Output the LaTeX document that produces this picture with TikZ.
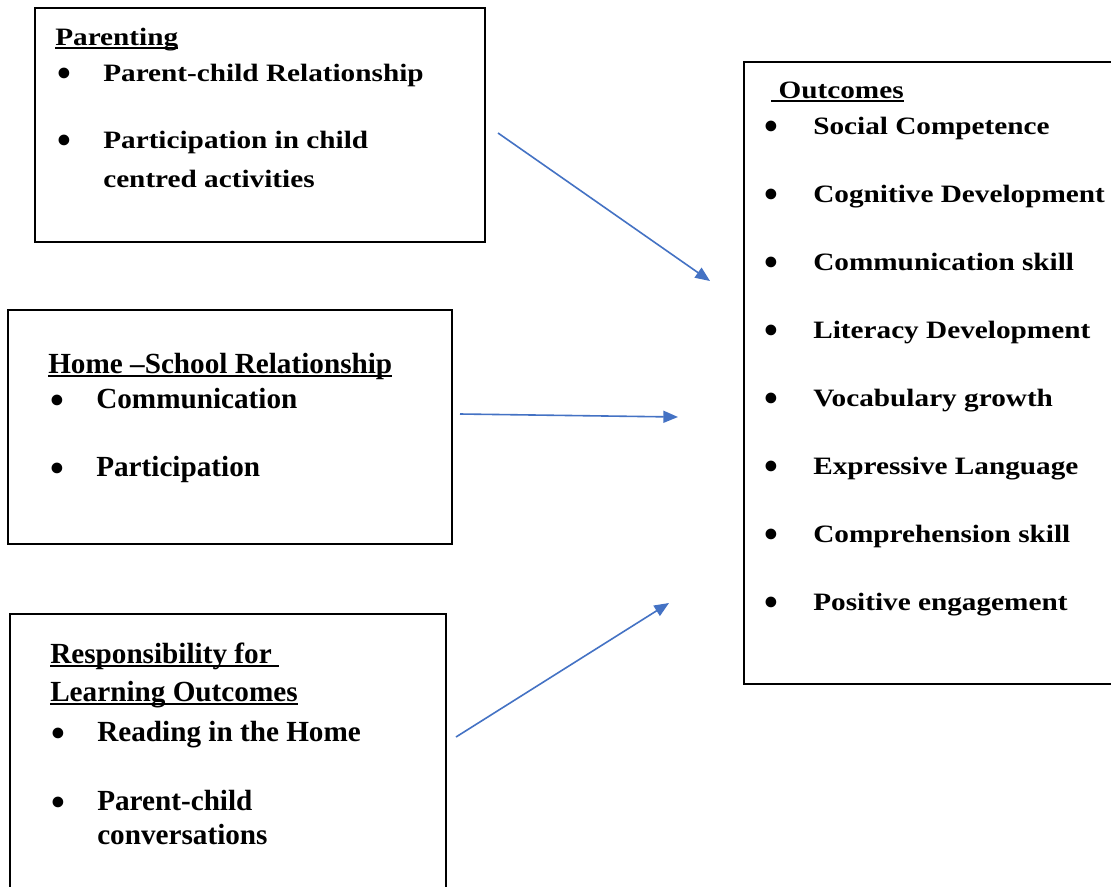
\documentclass[tikz,border=0pt]{standalone}
\usepackage{fontspec}
\setmainfont{Liberation Serif}
\newfontfamily\wideserif{Liberation Serif}[FakeStretch=1.17]
\usepackage{tikz}
\usetikzlibrary{arrows.meta}
\usetikzlibrary{positioning}
\definecolor{arrowblue}{RGB}{68,114,196}
\newcommand\hdline[1]{\setbox0\hbox{#1}\rlap{\rule[-3.2pt]{\wd0}{1.4pt}}\box0}
\newcommand\bigbul{\raisebox{-4pt}{\scalebox{1.35}{\textbullet}}}
\tikzstyle{box} = [rectangle, draw, line width=1.5pt, inner sep=0pt]
\tikzstyle{txt} = [anchor=base west, inner sep=0pt, font=\bfseries\fontsize{21.9}{26}\selectfont]
\tikzstyle{wtxt} = [anchor=base west, inner sep=0pt, font=\wideserif\bfseries\fontsize{18.75}{22}\selectfont]
\tikzstyle{line} = [draw, arrowblue, line width=1.2pt, -{Triangle[length=11pt, width=9pt]}]

\begin{document}
\begin{tikzpicture}[x=0.75pt, y=-0.75pt]
	\clip (0,0) rectangle (1111,886);
	\fill[white] (0,0) rectangle (1111,886);
	
	% Boxes
	\node [box, minimum width=337.5pt, minimum height=175.5pt] (parent) at (260,125) {};
	\node [box, minimum width=333pt, minimum height=175.5pt] (school) at (230,427) {};
	\node [box, minimum width=327pt, minimum height=225pt] (learn) at (228,764) {};
	\node [box, minimum width=285pt, minimum height=466.5pt] (outc) at (934,373) {};
	
	% Parenting
	\node [wtxt] (p0) at (55,45) {\hdline{Parenting}};
	\node [txt] (pb1) at (57,81) {\bigbul};
	\node [wtxt] (p1) at (103,81) {Parent-child Relationship};
	\node [txt] (pb2) at (57,148) {\bigbul};
	\node [wtxt] (p2) at (103,148) {Participation in child};
	\node [wtxt] (p3) at (103,187) {centred activities};
	
	% Home-School
	\node [txt] (s0) at (48,373) {\hdline{Home –School Relationship}};
	\node [txt] (sb1) at (50,408) {\bigbul};
	\node [txt] (s1) at (96,408) {Communication};
	\node [txt] (sb2) at (50,476) {\bigbul};
	\node [txt] (s2) at (96,476) {Participation};
	
	% Responsibility
	\node [txt] (l0) at (50,663) {\hdline{Responsibility for\ }};
	\node [txt] (l1) at (50,701) {\hdline{Learning Outcomes}};
	\node [txt] (lb1) at (51,741) {\bigbul};
	\node [txt] (l2) at (97,741) {Reading in the Home};
	\node [txt] (lb2) at (51,810) {\bigbul};
	\node [txt] (l3) at (97,810) {Parent-child};
	\node [txt] (l4) at (97,844) {conversations};
	
	% Outcomes
	\node [wtxt] (o0) at (771,98) {\hdline{\ Outcomes}};
	\foreach \t [count=\i from 0] in {Social Competence, Cognitive Development,
		Communication skill, Literacy Development, Vocabulary growth,
		Expressive Language, Comprehension skill, Positive engagement} {
		\node [txt] (ob\i) at (764,{134+68*\i}) {\bigbul};
		\node [wtxt] (o\i) at (813,{134+68*\i}) {\t};
	}
	
	% Draw edges
	\coordinate (a1s) at (498,133);
	\coordinate (a1e) at (710,281);
	\coordinate (a2s) at (460,414);
	\coordinate (a2e) at (678,417);
	\coordinate (a3s) at (456,737);
	\coordinate (a3e) at (669,603);
	\path [line] (a1s) -- (a1e);
	\path [line] (a2s) -- (a2e);
	\path [line] (a3s) -- (a3e);
	
\end{tikzpicture}
\end{document}
